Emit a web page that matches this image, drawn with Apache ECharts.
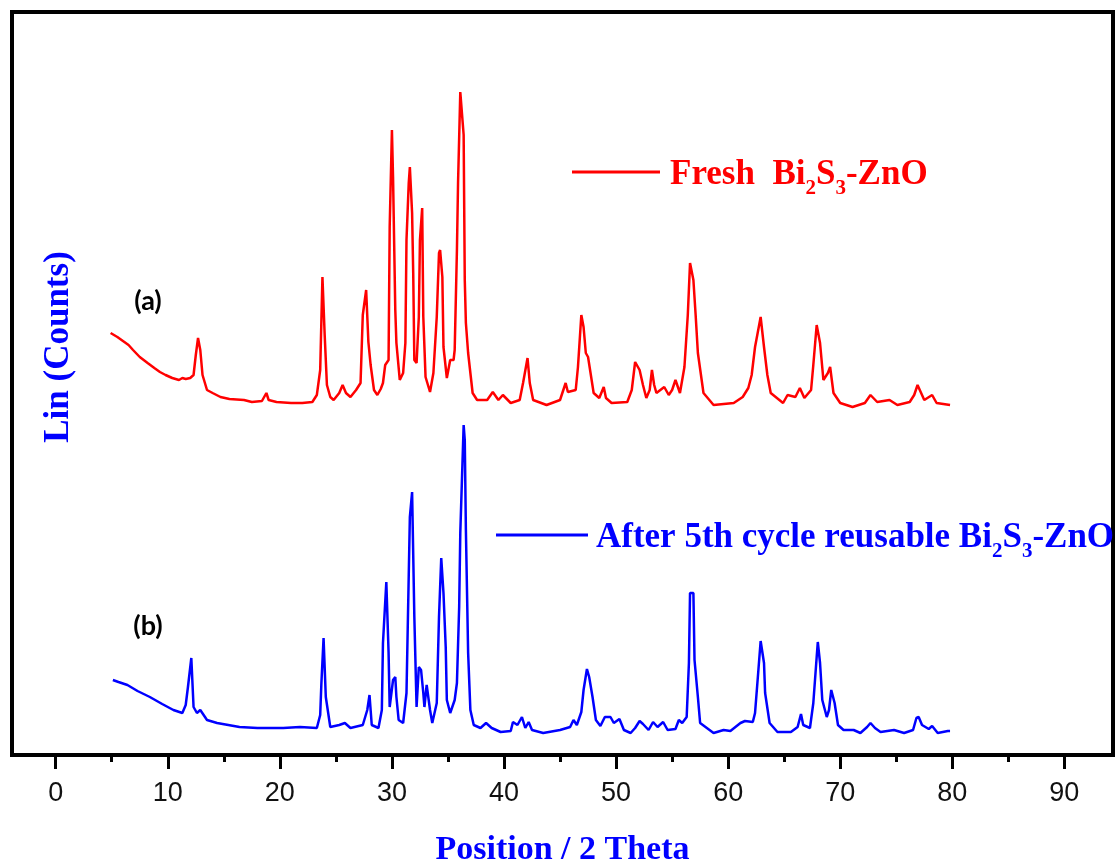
<!DOCTYPE html>
<html>
<head>
<meta charset="utf-8">
<title>XRD Bi2S3-ZnO</title>
<script src="https://cdn.jsdelivr.net/npm/echarts@6/dist/echarts.min.js"></script>
<style>
  html, body { margin: 0; padding: 0; background: #fff; }
  #chart { width: 1119px; height: 862px; }
</style>
</head>
<body>
<div id="chart"></div>
<script>
// tick positions on the 2 theta axis
const majorTicks = [0, 10, 20, 30, 40, 50, 60, 70, 80, 90];
const minorTicks = [5, 15, 25, 35, 45, 55, 65, 75, 85];

// (a) fresh Bi2S3-ZnO (counts are offset above (b))
const freshTheta = [4.9, 5.5, 6.0, 6.5, 6.9, 7.5, 8.2, 8.8, 9.3, 9.8, 10.4, 11.0, 11.3, 11.6, 12.0, 12.3, 12.5, 12.7, 12.9, 13.1,
  13.5, 14.0, 14.7, 15.5, 16.8, 17.5, 18.4, 18.8, 19.0, 19.7, 21.0, 22.0, 22.9, 23.3, 23.6, 23.8, 24.0, 24.2, 24.5, 24.8,
  25.3, 25.6, 25.9, 26.3, 26.8, 27.2, 27.4, 27.7, 27.9, 28.1, 28.4, 28.7, 29.0, 29.2, 29.4, 29.7, 29.8, 30.0, 30.1, 30.3,
  30.4, 30.7, 31.0, 31.2, 31.3, 31.5, 31.6, 31.8, 31.9, 32.0, 32.2, 32.4, 32.5, 32.7, 32.8, 33.0, 33.4, 33.7, 34.0, 34.2,
  34.3, 34.5, 34.6, 34.9, 35.2, 35.5, 35.6, 35.8, 35.9, 36.1, 36.4, 36.5, 36.6, 36.8, 37.2, 37.6, 38.5, 39.0, 39.5, 39.9,
  40.6, 41.4, 41.7, 42.1, 42.3, 42.6, 43.8, 45.0, 45.5, 45.7, 46.4, 46.6, 46.9, 47.1, 47.3, 47.5, 48.0, 48.5, 48.9, 49.1,
  49.6, 51.0, 51.4, 51.7, 52.1, 52.4, 52.7, 53.0, 53.2, 53.4, 53.6, 54.3, 54.7, 55.0, 55.3, 55.7, 56.1, 56.4, 56.6, 56.9,
  57.1, 57.3, 57.8, 58.7, 60.5, 61.3, 61.8, 62.1, 62.4, 62.9, 63.2, 63.5, 63.8, 64.9, 65.3, 66.0, 66.4, 66.8, 67.4, 67.6,
  67.9, 68.2, 68.5, 68.9, 69.1, 69.4, 70.0, 71.1, 72.2, 72.7, 73.3, 74.4, 75.1, 76.2, 76.6, 76.9, 77.5, 78.2, 78.6, 79.8];
const freshCounts = [422, 418, 414, 410, 405, 398, 392, 387, 383, 380, 377, 375, 377, 376, 377, 380, 400, 417, 405, 380,
  365, 362, 358, 356, 355, 353, 354, 362, 355, 353, 352, 352, 353, 360, 385, 478, 420, 370, 358, 355,
  362, 370, 362, 358, 365, 372, 440, 465, 413, 390, 365, 360, 366, 372, 390, 395, 528, 625, 578, 445,
  412, 375, 382, 412, 515, 572, 588, 542, 482, 395, 392, 438, 515, 547, 438, 378, 363, 382, 438, 502,
  505, 478, 408, 377, 395, 395, 405, 505, 572, 663, 620, 475, 432, 402, 362, 355, 355, 363, 355, 360,
  352, 355, 372, 397, 372, 355, 350, 355, 372, 363, 365, 388, 440, 428, 402, 398, 362, 357, 368, 357,
  352, 353, 365, 393, 385, 370, 357, 365, 385, 370, 362, 368, 360, 365, 375, 362, 388, 440, 492, 475,
  440, 402, 362, 350, 352, 358, 367, 380, 408, 438, 408, 380, 362, 352, 360, 358, 367, 357, 365, 390,
  430, 412, 375, 382, 388, 362, 352, 348, 352, 360, 353, 355, 350, 353, 360, 370, 355, 360, 352, 350];

// (b) after 5th cycle reusable Bi2S3-ZnO
const reusedTheta = [5.1, 5.6, 6.4, 7.3, 8.4, 9.5, 10.5, 11.3, 11.6, 11.8, 12.1, 12.3, 12.6, 12.9, 13.5, 14.4, 15.4, 16.4, 18.0, 20.3,
  21.8, 23.3, 23.6, 23.7, 23.9, 24.1, 24.5, 25.3, 25.8, 26.3, 27.4, 27.8, 28.0, 28.2, 28.8, 29.1, 29.2, 29.5, 29.7, 29.8,
  30.1, 30.3, 30.4, 30.6, 31.0, 31.3, 31.6, 31.8, 32.0, 32.2, 32.4, 32.6, 32.8, 32.9, 33.1, 33.4, 33.6, 34.0, 34.2, 34.4,
  34.6, 34.8, 34.9, 35.2, 35.6, 35.8, 36.0, 36.1, 36.4, 36.5, 36.6, 36.8, 37.0, 37.3, 37.9, 38.4, 38.9, 39.7, 40.6, 40.8,
  41.2, 41.6, 41.9, 42.2, 42.5, 43.5, 45.0, 45.9, 46.2, 46.5, 46.9, 47.1, 47.4, 47.6, 47.9, 48.2, 48.6, 49.0, 49.5, 49.8,
  50.3, 50.7, 51.3, 51.7, 52.1, 52.4, 52.9, 53.3, 53.7, 54.2, 54.6, 55.3, 55.6, 55.9, 56.3, 56.5, 56.6, 56.9, 57.0, 57.3,
  57.5, 58.1, 58.7, 59.6, 60.2, 61.1, 61.5, 62.2, 62.4, 62.7, 62.9, 63.2, 63.3, 63.7, 64.4, 65.6, 66.2, 66.5, 66.7, 67.3,
  67.6, 67.9, 68.0, 68.2, 68.4, 68.8, 69.0, 69.2, 69.5, 69.8, 70.3, 71.2, 71.8, 72.4, 72.7, 73.1, 73.6, 74.8, 75.7, 76.5,
  76.8, 77.0, 77.3, 77.9, 78.2, 78.7, 79.6, 79.8];
const reusedCounts = [75, 73, 70, 64, 58, 51, 45, 42, 50, 68, 97, 48, 42, 45, 35, 32, 30, 28, 27, 27,
  28, 27, 40, 70, 117, 58, 28, 30, 32, 27, 30, 45, 60, 30, 27, 45, 112, 173, 103, 48,
  75, 78, 58, 35, 32, 62, 238, 263, 138, 48, 88, 85, 62, 48, 70, 45, 32, 52, 138, 197,
  162, 108, 55, 42, 55, 72, 148, 222, 330, 315, 225, 102, 45, 30, 27, 32, 27, 23, 24, 33,
  30, 38, 27, 33, 25, 22, 25, 28, 35, 30, 43, 65, 86, 78, 58, 35, 29, 38, 38, 32,
  36, 25, 22, 27, 34, 31, 25, 33, 28, 33, 25, 26, 35, 32, 38, 92, 162, 162, 95, 58,
  32, 27, 22, 25, 24, 32, 34, 33, 42, 85, 114, 92, 62, 32, 23, 23, 28, 41, 30, 27,
  52, 98, 113, 92, 55, 38, 45, 65, 52, 30, 25, 25, 22, 28, 32, 27, 23, 25, 22, 25,
  37, 38, 30, 26, 29, 22, 24, 24];

const zip = (xs, ys) => xs.map((x, i) => [x, ys[i]]);

const serif = 'Liberation Serif, Times New Roman, serif';
// rich styles for "Bi2S3" with real subscripts
const subRich = (color) => ({
  n: { fontFamily: serif, fontWeight: 'bold', fontSize: 35, lineHeight: 35, fill: color, verticalAlign: 'bottom' },
  s: { fontFamily: serif, fontWeight: 'bold', fontSize: 21, lineHeight: 21, fill: color, verticalAlign: 'top', padding: [21, 0, 0, 0] }
});

let chart = echarts.init(document.getElementById('chart'));
chart.setOption({
  animation: false,
  grid: {
    left: 12, right: 6, top: 12, bottom: 107,
    outerBoundsMode: 'none',
    containLabel: false,
    show: true,
    borderColor: '#000',
    borderWidth: 4
  },
  xAxis: [
    {
      type: 'value',
      min: -3.9,
      max: 94.34,
      axisLine: { show: false },
      splitLine: { show: false },
      axisTick: { show: true, customValues: majorTicks, length: 14, lineStyle: { color: '#000', width: 3 } },
      axisLabel: { customValues: majorTicks, fontSize: 27, color: '#111', margin: 25, fontFamily: 'Liberation Sans, Arial, sans-serif' },
      name: 'Position / 2 Theta',
      nameLocation: 'middle',
      nameGap: 78,
      nameTextStyle: { color: '#0000ff', fontSize: 34, fontWeight: 'bold', fontFamily: serif }
    },
    {
      // minor ticks
      type: 'value',
      min: -3.9,
      max: 94.34,
      position: 'bottom',
      axisLine: { show: false },
      splitLine: { show: false },
      axisLabel: { show: false },
      axisTick: { show: true, customValues: minorTicks, length: 7, lineStyle: { color: '#000', width: 3 } }
    }
  ],
  yAxis: {
    type: 'value',
    min: 0,
    max: 743,
    show: false
  },
  series: [
    {
      name: 'Fresh Bi2S3-ZnO',
      type: 'line',
      xAxisIndex: 0,
      data: zip(freshTheta, freshCounts),
      showSymbol: false,
      lineStyle: { color: '#ff0000', width: 2.5 }
    },
    {
      name: 'After 5th cycle reusable Bi2S3-ZnO',
      type: 'line',
      xAxisIndex: 0,
      data: zip(reusedTheta, reusedCounts),
      showSymbol: false,
      lineStyle: { color: '#0000ff', width: 2.5 }
    }
  ],
  graphic: [
    {
      type: 'text', x: 59, y: 347, rotation: Math.PI / 2,
      style: { text: 'Lin (Counts)', fill: '#0000ff', font: 'bold 35px ' + serif, align: 'center', verticalAlign: 'middle' }
    },
    {
      type: 'text', x: 148, y: 301,
      style: { text: '(a)', fill: '#000', font: 'bold 27px Lato, Open Sans, sans-serif', align: 'center', verticalAlign: 'middle' }
    },
    {
      type: 'text', x: 148, y: 626,
      style: { text: '(b)', fill: '#000', font: 'bold 27px Lato, Open Sans, sans-serif', align: 'center', verticalAlign: 'middle' }
    },
    {
      type: 'line', shape: { x1: 572, y1: 172, x2: 660, y2: 172 },
      style: { stroke: '#ff0000', lineWidth: 3 }
    },
    {
      type: 'text', x: 670, y: 175,
      style: { text: '{n|Fresh  Bi}{s|2}{n|S}{s|3}{n|-ZnO}', rich: subRich('#ff0000'), align: 'left', verticalAlign: 'middle' }
    },
    {
      type: 'line', shape: { x1: 496, y1: 535, x2: 588, y2: 535 },
      style: { stroke: '#0000ff', lineWidth: 3 }
    },
    {
      type: 'text', x: 596, y: 538,
      style: { text: '{n|After 5th cycle reusable Bi}{s|2}{n|S}{s|3}{n|-ZnO}', rich: subRich('#0000ff'), align: 'left', verticalAlign: 'middle' }
    }
  ]
});
</script>
</body>
</html>
